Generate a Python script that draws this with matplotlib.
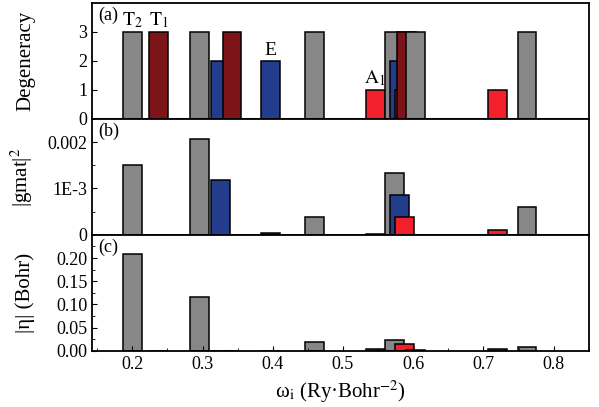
import numpy as np
import matplotlib
matplotlib.use('Agg')
from matplotlib import pyplot as plt
from matplotlib.ticker import MultipleLocator

plt.rcParams['font.family'] = ['Liberation Serif', 'DejaVu Serif']
plt.rcParams['mathtext.fontset'] = 'stix'

# mode frequencies (Ry/Bohr^2), sorted, with symmetry
freq = [0.200, 0.238, 0.296, 0.325, 0.342, 0.397, 0.459, 0.546,
        0.574, 0.581, 0.587, 0.591, 0.603, 0.720, 0.762]
sym = ['T2', 'T1', 'T2', 'E', 'T1', 'E', 'T2', 'A1',
       'T2', 'E', 'A1', 'T1', 'T2', 'A1', 'T2']
degeneracy = [3, 3, 3, 2, 3, 2, 3, 1, 3, 2, 1, 3, 3, 1, 3]
gmat2 = [0.00150, 0.0, 0.00206, 0.00118, 0.0, 0.00003, 0.00039, 0.00002,
         0.00133, 0.00085, 0.00039, 0.0, 0.0, 0.00011, 0.00061]
eta = [0.209, 0.0, 0.115, 0.0, 0.0, 0.0, 0.020, 0.005,
       0.024, 0.0, 0.014, 0.0, 0.001, 0.004, 0.0085]

# which bars carry a symmetry label in panel (a)
label_bars = [0, 1, 5, 7]

colors = {'T2': '#878787', 'T1': '#7d1518', 'E': '#233c8c', 'A1': '#f2202a'}
bar_colors = [colors[s] for s in sym]

fig, axes = plt.subplots(3, 1, figsize=(5.99, 4.07), dpi=100, sharex=True)
fig.subplots_adjust(left=0.154, right=0.983, top=0.993, bottom=0.138, hspace=0)

w = 0.027
for ax, vals in zip(axes, [degeneracy, gmat2, eta]):
    ax.bar(freq, vals, width=w, color=bar_colors, edgecolor='black', linewidth=1.1)
    ax.tick_params(direction='in', labelsize=13, top=False, right=False)
    ax.tick_params(which='minor', direction='in', top=False, right=False)
    for sp in ax.spines.values():
        sp.set_linewidth(1.3)

ax1, ax2, ax3 = axes
ax1.set_xlim(0.143, 0.85)
ax3.xaxis.set_major_locator(MultipleLocator(0.1))
ax3.xaxis.set_minor_locator(MultipleLocator(0.05))
for ax in (ax1, ax2):
    ax.tick_params(axis='x', which='both', length=0)

ax1.set_ylim(0, 4)
ax1.set_yticks([0, 1, 2, 3])
ax2.set_ylim(0, 0.0025)
ax2.set_yticks([0, 0.001, 0.002])
ax2.set_yticklabels(['0', '1E-3', '0.002'])
ax2.yaxis.set_minor_locator(MultipleLocator(0.0005))
ax3.set_ylim(0, 0.25)
ax3.set_yticks([0, 0.05, 0.10, 0.15, 0.20])
ax3.set_yticklabels(['0.00', '0.05', '0.10', '0.15', '0.20'])
ax3.yaxis.set_minor_locator(MultipleLocator(0.025))

ax1.set_ylabel('Degeneracy', fontsize=15)
ax2.set_ylabel(r'|gmat|$^2$', fontsize=15)
ax3.set_ylabel('|η| (Bohr)', fontsize=15)
ax3.set_xlabel(r'ω$_\mathrm{i}$ (Ry·Bohr$^{\mathrm{-2}}$)', fontsize=15)
for ax in axes:
    ax.yaxis.set_label_coords(-0.115, 0.5)

for ax, lab in zip(axes, ['(a)', '(b)', '(c)']):
    ax.text(0.012, 0.97, lab, transform=ax.transAxes, fontsize=13, va='top', ha='left')

for i in label_bars:
    s = sym[i]
    txt = r'$\mathrm{%s}_{\mathrm{%s}}$' % (s[0], s[1]) if len(s) > 1 else s
    ax1.text(freq[i], degeneracy[i] + 0.05, txt, ha='center', va='bottom', fontsize=14)

fig.savefig('out.png', dpi=100)
